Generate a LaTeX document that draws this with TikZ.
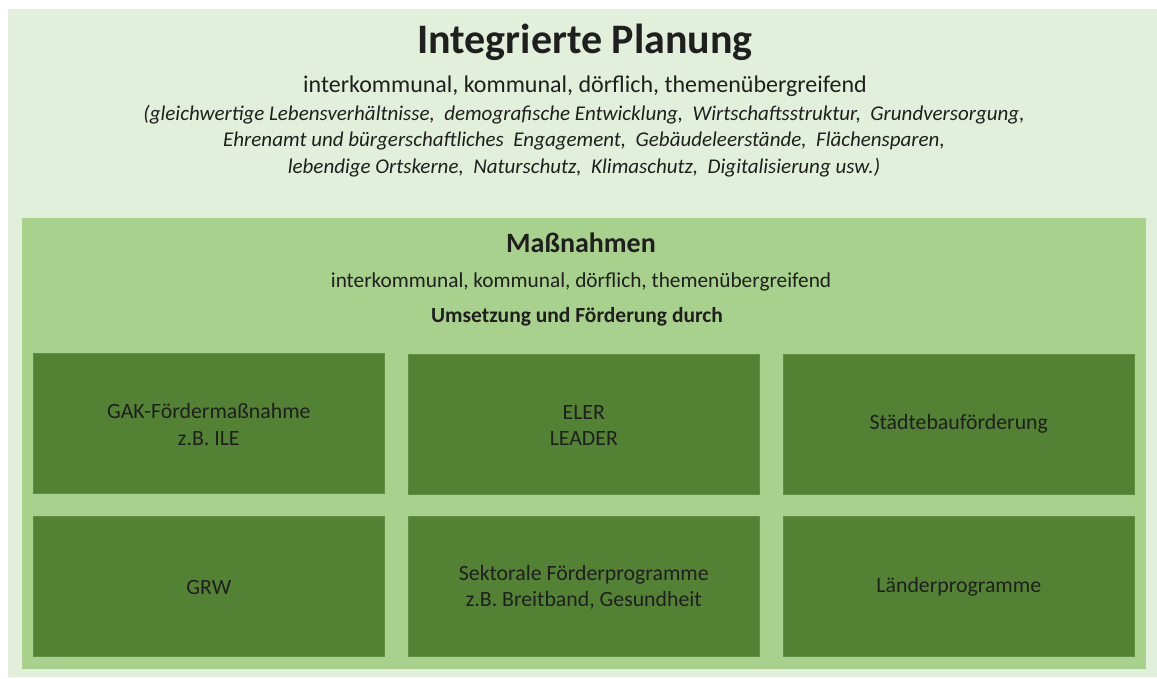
\documentclass[tikz,border=0pt]{standalone}
\usepackage{fontspec}
\setmainfont{Carlito}
\definecolor{paleGreen}{HTML}{E2EFDA}
\definecolor{midGreen}{HTML}{A9D18E}
\definecolor{darkGreen}{HTML}{548235}
\tikzset{
  panel/.style={rectangle, inner sep=0pt, anchor=north west},
  fundbox/.style={rectangle, fill=darkGreen, draw=darkGreen!85!midGreen, line width=0.6pt,
    inner sep=0pt, anchor=north west, minimum width=351pt, minimum height=140pt},
  fundtext/.style={align=center, font=\fontsize{21.8}{26.5}\selectfont, text=black!88},
  plain/.style={align=center, inner sep=0pt, text=black!88},
}
\begin{document}
\begin{tikzpicture}[x=1pt,y=-1pt]
  \useasboundingbox (0,0) rectangle (1157,679);
  \fill[white] (0,0) rectangle (1157,679);

  % outer planning panel and inner measures panel
  \node[panel, fill=paleGreen, minimum width=1149pt, minimum height=668pt] (outer) at (8,9) {};
  \node[panel, fill=midGreen, minimum width=1124pt, minimum height=451pt] (inner) at (22,218) {};

  % headings of the planning panel
  \node[plain, font=\bfseries\fontsize{42}{46}\selectfont] (title) at (585,42) {Integrierte Planung};
  \node[plain, font=\fontsize{24}{28}\selectfont] (scope) at (585,86) {interkommunal, kommunal, dörflich, themenübergreifend};
  \node[plain, font=\itshape\fontsize{21}{26.5}\selectfont] (topics) at (584,141)
    {(gleichwertige Lebensverhältnisse, \ demografische Entwicklung, \ Wirtschaftsstruktur, \ Grundversorgung,\\
     Ehrenamt und bürgerschaftliches \ Engagement, \ Gebäudeleerstände, \ Flächensparen,\\
     lebendige Ortskerne, \ Naturschutz, \ Klimaschutz, \ Digitalisierung usw.)};

  % headings of the measures panel
  \node[plain, font=\bfseries\fontsize{28}{32}\selectfont] (measures) at (581,243) {Maßnahmen};
  \node[plain, font=\fontsize{21.3}{25}\selectfont] (mscope) at (581,282) {interkommunal, kommunal, dörflich, themenübergreifend};
  \node[plain, font=\bfseries\fontsize{21.5}{25}\selectfont] (funding) at (577,317) {Umsetzung und Förderung durch};

  % funding programmes, two rows of three
  \node[fundbox] (gak)  at (33,353)  {};
  \node[fundbox] (eler) at (408,354) {};
  \node[fundbox] (stb)  at (783,354) {};
  \node[fundbox] (grw)  at (33,516)  {};
  \node[fundbox] (sekt) at (408,516) {};
  \node[fundbox] (land) at (783,516) {};

  \node[fundtext] at ([yshift=-1pt]gak.center)  {GAK-Fördermaßnahme\\z.B. ILE};
  \node[fundtext] at ([yshift=-1pt]eler.center) {ELER\\LEADER};
  \node[fundtext] at ([yshift=0pt]stb.center)  {Städtebauförderung};
  \node[fundtext] at ([yshift=-1pt]grw.center)  {GRW};
  \node[fundtext] at ([yshift=-1pt]sekt.center) {Sektorale Förderprogramme\\z.B. Breitband, Gesundheit};
  \node[fundtext] at ([yshift=-1pt]land.center) {Länderprogramme};
\end{tikzpicture}
\end{document}
